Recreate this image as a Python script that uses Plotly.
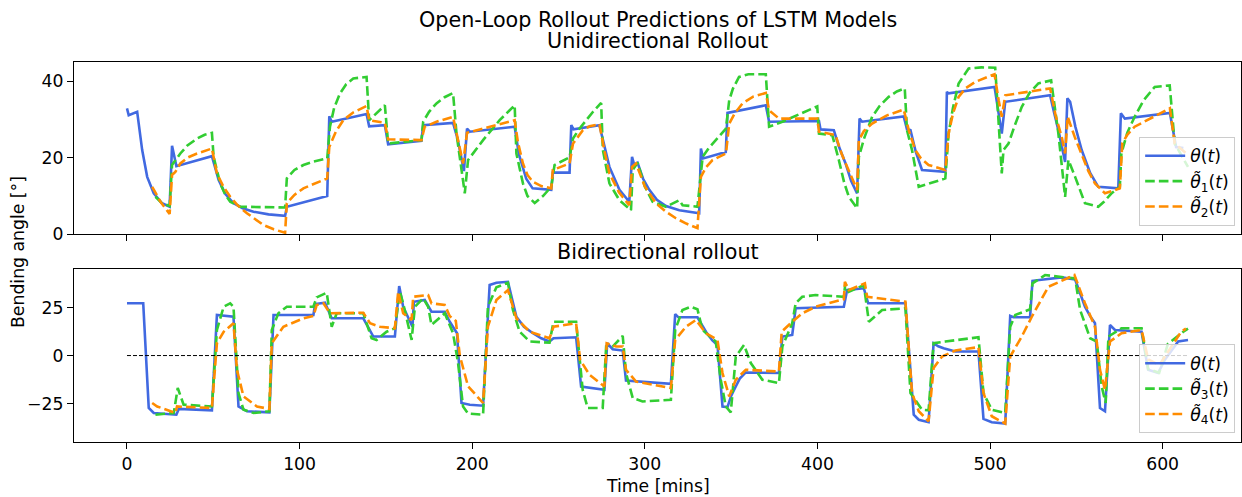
import plotly.graph_objects as go

# ---------------- data ----------------
# Unidirectional rollout: measured angle theta(t)
t_theta_uni = [0, 1, 5.9, 8.8, 11.7, 15.5, 20.3, 24.7, 26.1, 28.6, 49.2, 53.1, 57, 61.8, 67, 73.3, 82, 91.6,
               92.6, 116, 117.2, 118.6, 138.8, 140.3, 149.4, 151.3, 170.6, 171.6, 188.9, 191.5, 195.2, 197, 198.6,
               224.6, 227, 231.3, 235, 245.8, 246.7, 256.4, 257.4, 258.7, 273.7, 276.5, 279.5, 285.3, 291,
               292.6, 293.9, 295.8, 299, 302.6, 307, 312.3, 320, 331.5, 332.5, 333.8, 346.9, 347.9, 370.1,
               372, 400.9, 401.8, 409.5, 412.4, 416.3, 419.5, 423, 424.4, 425.9, 450, 451.9, 453.9, 457,
               460.6, 474.1, 475, 476, 502.6, 505, 506.8, 508.8, 534.8, 537, 539.6, 543.5, 544.8, 546.4,
               549.5, 553.1, 558, 562.7, 574.3, 575.8, 578.1, 604.2, 607.8, 612]
theta_uni = [32.9, 31.1, 32, 22, 15, 10.7, 8.1, 7.2, 23.1, 17.8, 20.4, 14.2, 10.5, 8.1, 6.8, 5.9, 5.2, 4.8,
             7.2, 10, 30.8, 29.4, 31.4, 28.2, 28.5, 23.5, 24.4, 28.5, 29.1, 25, 16.5, 27.6, 26.8,
             28.1, 21, 14.5, 12, 11.6, 16.1, 16.1, 28.5, 27.4, 28.5, 23, 17.6, 11.6, 8.5,
             20.2, 18.1, 18.7, 14.5, 11.6, 9, 7.4, 6.3, 5.5, 22.4, 19.8, 21.5, 31.7, 33.7,
             29.4, 29.6, 27.4, 27.2, 23, 18.5, 14, 10.7, 30.2, 29.4, 30.8, 27.4, 27.2, 21.5,
             16.8, 16.3, 37.2, 36.8, 38.5, 31, 26.3, 34.6, 36.3, 32, 27.2, 18.9, 35.5, 34.6,
             28, 22, 16, 12.4, 12, 31.6, 30.2, 31.7, 22.8, 22.5]

# Unidirectional rollout: model 1 prediction
t_pred1 = [16.5, 20, 24.7, 26.1, 30.9, 35, 40.6, 45, 49.2, 50.2, 54, 57, 59.8, 65.6, 91.6, 92.6, 97, 102.2,
           108, 116, 117.6, 120, 123.4, 127, 131.1, 138.8, 140.3, 149.4, 151.3, 170.6, 171.6, 175, 179.3,
           184, 188.9, 190.9, 195.7, 197.6, 206.3, 215.9, 224.6, 225.6, 229.4, 232, 236.2, 241, 245.8,
           247.7, 256.4, 258.4, 262, 266.1, 270, 274.7, 275.7, 279.5, 285.3, 292, 293, 295.8, 300, 304.5,
           312.3, 320, 321.9, 330.5, 333.5, 337, 341.2, 347, 348.9, 351, 354.6, 360, 370.1, 372, 379.7,
           390, 399.9, 400.9, 408.6, 412.4, 415.5, 418.2, 423, 424, 427, 431.7, 436, 441.3, 446, 450.6,
           451.9, 454.8, 458.7, 474.1, 476, 478.5, 481.8, 487.6, 495, 503, 505, 506.8, 507.8, 510.7,
           514, 518.4, 523, 528, 535.4, 539.6, 543.5, 545.4, 549.3, 555, 562.7, 566, 570.4, 575.2,
           576.1, 579.5, 583.8, 589, 595.4, 604.1, 607, 614.7]
pred1 = [9.8, 8.2, 7.4, 18.1, 21.1, 23.2, 25, 26, 26.5, 20.2, 13.3, 10.3, 8.5, 7.2, 7, 14.6, 16.8, 18.1,
         19, 19.8, 28.1, 33, 36.8, 39.2, 40.7, 41.1, 29.8, 33.7, 23.7, 24.6, 29.4, 32, 34.2,
         35.8, 36.9, 26.3, 10.7, 19.4, 24.6, 29.8, 33.7, 21.1, 13.3, 10, 8.2, 10, 12.4,
         18.1, 20.1, 25, 27.5, 29.8, 32, 34.3, 22, 13.3, 8.9, 6.3, 16.8, 18.7, 12.5, 8.5,
         7.2, 8.9, 7.6, 7.2, 20.2, 22.5, 24.6, 27.6, 35, 38, 41.1, 41.8, 41.8, 28.1, 29.4,
         31.4, 33.4, 26.3, 25.9, 19.4, 13.5, 9.8, 6.8, 20.2, 25, 30.7, 33.5, 35.9, 37.3, 38.1,
         27.2, 22, 12.4, 14.6, 26.3, 33, 39.4, 43.3, 43.6, 43.5, 30, 15.9, 22, 23.7,
         28, 33.3, 37, 39.4, 40.2, 26.3, 9.8, 19.4, 15, 8.1, 7.2, 8.5, 10.7, 12.4,
         21.1, 26.5, 30.7, 35, 38.5, 38.9, 23.7, 17.6]

# Unidirectional rollout: model 2 prediction
t_pred2 = [14.6, 19.4, 24.7, 26.1, 28, 30.9, 35, 40.6, 49.2, 52.1, 56, 59.8, 64, 69.5, 79.1, 85, 91.6,
           92.6, 97, 102.2, 116, 117.2, 121, 125.3, 131, 138.8, 140.3, 149.4, 151.3, 170.6, 172.5, 180,
           188.9, 191.5, 194.7, 197, 206.3, 215, 224.6, 226.5, 229.4, 232, 235.2, 240, 245.8, 246.7,
           256.4, 258.4, 264.1, 268, 273.7, 276.5, 279.5, 285, 291, 292.6, 294.9, 300, 306.5, 312, 318,
           324, 330.5, 332.5, 335.5, 339.2, 347, 348.9, 352, 356.6, 363, 370.1, 372, 377.8, 399.9,
           400.9, 410.5, 414, 418.2, 423, 424, 427, 431.7, 440, 450, 452.9, 456.7, 460, 464.4, 474.1,
           476, 478.5, 481.8, 486, 491.4, 502.6, 505, 506.8, 508.8, 534.8, 538, 541.5, 543.5, 545,
           549, 553.1, 557, 560.8, 566.6, 575.2, 576.6, 579.5, 583.8, 594, 604.2, 607, 614]
pred2 = [12.4, 8.5, 5.3, 15.5, 16.3, 18.5, 20, 21.1, 22.4, 15.9, 12.3, 9.8, 7.6, 5.5, 2.4, 1.3, 0.4,
         8.1, 10.3, 12, 14.6, 22.8, 26.8, 29.8, 31.8, 33.5, 29.8, 29.1, 24.8, 24.6, 28.1, 29.5,
         30.7, 25.5, 18.5, 26.5, 27.6, 28.8, 29.8, 24, 18.5, 15.5, 13.7, 12.6, 12, 16.8,
         18.5, 23.7, 27.2, 28.2, 28.8, 22, 15.9, 11, 7.6, 17.6, 18.5, 12.5, 8.1, 6, 4.2,
         2.8, 1.6, 15, 17.5, 19.4, 21.1, 28.9, 31.5, 34.2, 36, 36.9, 32.4, 30.2, 30.2,
         26.8, 25.9, 21, 16.8, 11.6, 24.6, 27, 28.9, 31, 32.6, 27.2, 22, 19.8, 18.1, 16.8,
         26.3, 31.5, 35.9, 38.2, 39.8, 41.8, 35, 30.7, 36.3, 38.1, 31, 25.5, 21.1, 30.7,
         25.5, 21.1, 16.5, 13.3, 10.7, 12, 23.7, 26, 28.1, 30.5, 32.9, 23.7, 21]

# Bidirectional rollout: measured angle theta(t)
t_theta_bi = [0, 9.4, 12.6, 15.5, 28.6, 30, 49.2, 52.1, 61.7, 64.6, 69.5, 82.5, 84.9, 108, 109, 114.7,
              118.6, 136.9, 142.7, 155.2, 157.7, 160, 165.4, 166.2, 172.5, 176.4, 184.1, 187, 191.2,
              193.8, 198.6, 206.3, 210.1, 214, 220.7, 223, 225.6, 230, 235.2, 240, 244.8, 247.1, 260.2,
              263.1, 276.6, 278.2, 281.4, 287.2, 289.1, 315.1, 317.6, 319.5, 330.5, 335.4, 339, 342.1,
              345, 347.9, 350, 352.7, 355, 358.5, 377.7, 379.7, 385.4, 387.4, 415.3, 417.2, 426.9,
              429.4, 451, 455.8, 458.7, 464.4, 467.3, 470, 473.1, 479.9, 493.3, 496.2, 501, 508.8,
              511.7, 513.6, 523.2, 524.6, 541.5, 549.3, 552, 555, 558, 560.8, 563.7, 566.6, 569.5,
              572.4, 587.8, 591.6, 597.4, 601.3, 609, 614.7]
theta_bi = [27.2, 27.2, -27.3, -29.9, -30.8, -27.8, -28.5, 21.1, 20.2, -26.5, -29, -29.6, 21.1, 21.1, 26.8, 27.5,
            19.4, 19.4, 9.9, 9.9, 36.2, 25.4, 15, 28, 28.9, 22.8, 22.8, 17.6, 11.6,
            -24.7, -25.6, -26.1, 36.7, 37.9, 38.4, 29, 20.2, 15, 11.6, 9, 7.3, 9, 9.5,
            -16.1, -17.8, 6.4, 3.3, 2.6, -13, -14.7, 21.6, 19.9, 19.9, 12.4, 8, 5.5,
            -26.5, -26.8, -21, -16.1, -12, -8.8, -9.1, 9.9, 10.7, 24.6, 25.4, 34.1, 35,
            27.2, 27.2, -30.8, -33.4, -34.7, 6.4, 4.8, 3.8, 2.1, 2.1, -33, -34.7, -35.4,
            20.6, 19.9, 19.9, 38.9, 40.7, 39.6, 33, 25.4, 20.5, 16.8, -27.3, -29, 15.9,
            13.3, 12.4, -7.4, -9.1, -2.2, 7.3, 8.1]

# Bidirectional rollout: model 3 prediction
t_pred3 = [16.5, 27.1, 29.4, 32.8, 49.2, 52.1, 56, 59.8, 61.7, 64.6, 67.5, 73.3, 82.5, 83.9, 87.7, 92.6,
           108, 109.9, 115.7, 118.6, 121.5, 136.9, 141.7, 144.6, 150.4, 155.2, 158.1, 160, 164.9, 166.8,
           171.6, 174.5, 176.4, 184.1, 188.9, 191.8, 194.7, 197.6, 206.3, 209.1, 214, 220.7, 223.6,
           227.5, 233.3, 244.8, 247.1, 260.2, 264, 266.9, 275.6, 277.6, 281.4, 287.2, 289.1, 293,
           298.7, 315.1, 317.6, 321.8, 326.7, 330.5, 333.4, 341.1, 344, 346.9, 349.8, 352.7, 357.5,
           361.4, 368.1, 377.7, 379.7, 385.4, 387.4, 391.2, 398.9, 415.3, 416.2, 418.2, 426.9, 429.8,
           437.5, 451, 453.9, 460.6, 464.4, 467.3, 474.1, 493.3, 496.2, 501, 508.8, 511.7, 514.6,
           523.2, 524.6, 531.9, 549.3, 552.2, 558, 561.8, 564.7, 567, 568.6, 576.2, 587.8, 591.6,
           598, 603, 612, 614.7]
pred3 = [-30.8, -29.9, -16.9, -25.6, -26.5, 13.3, 25.4, 27.2, 25.4, -19.5, -28.2, -29.9, -29, 13.3, 22, 25.4,
         25.4, 30.3, 32.7, 15, 22, 22, 9, 8.1, 12.4, 14.2, 33.2, 27.2, 8.1, 25.4,
         29.8, 25.4, 15.9, 22, 11.6, -3.9, -26.5, -30.2, -30.8, 25.4, 35.5, 37.9, 23.7,
         12.4, 7.3, 6.7, 17.6, 17.6, -17.8, -27.3, -27.3, 4.7, 4.7, 10.2, -9.1, -22.1,
         -23.9, -23, 13.3, 23.7, 25.4, 24.1, 13.3, 7.3, -12.6, -26.5, -29.6, -0.5, 5.5,
         -3.9, -12.6, -14.3, 4.7, 16.8, 27.2, 30.6, 31.5, 30.6, 37.6, 33.2, 36.7, 17.6,
         23.7, 24.6, -19.5, -28.2, -28.5, 6.4, 7.3, 9.5, -19.5, -28.2, -29.9, 15, 21.1,
         24.1, 37.6, 41.9, 40.1, 23.7, 9, 7.3, -16.1, -24.7, 9.9, 14.2, 14.2, -7,
         -9, 6, 12.4, 14]

# Bidirectional rollout: model 4 prediction
t_pred4 = [14.6, 17.5, 28, 29, 49.2, 52.1, 56, 61.7, 63.7, 67.5, 75.3, 82.5, 83.9, 90.6, 102.2, 108,
           109.9, 113.8, 117.6, 136.9, 140.8, 146.5, 155.2, 157.1, 160, 164.9, 165.8, 174.5, 176.4,
           184.1, 187, 190.5, 192.8, 197.6, 206.3, 209.1, 214, 220.7, 225.6, 233.3, 244.8, 247.1,
           260.2, 262.5, 267.9, 276.6, 277.9, 283.4, 287.2, 289.1, 294.9, 315.1, 317.6, 323.8, 329.6,
           335.4, 342.1, 345, 348.9, 352.7, 358.5, 377.7, 379.3, 385.4, 391.2, 398.9, 415.3, 415.9,
           418.2, 427.5, 428.8, 451, 454.8, 458.7, 464.4, 467.3, 472.2, 479.9, 493.3, 496.2, 501,
           508.8, 511.7, 518.4, 524.2, 533.8, 548.9, 555, 560.8, 563.7, 566.6, 569.5, 576.2, 587.8,
           591.6, 598, 609, 610.7, 613.5]
pred4 = [-24.7, -26.5, -29.9, -26.5, -27.3, 6.4, 12.4, 16.8, -7.4, -21.3, -26.5, -27.8, 6.4, 15, 19.4, 20.6,
         26.3, 27.2, 22, 22.3, 16.8, 15, 14.2, 33.2, 22, 18.5, 30.6, 31.5, 27.2,
         26.3, 20.5, 18, 0, -16, -24.7, 15, 28.9, 34.1, 19.4, 12.4, 9, 15,
         16.8, -2.2, -10, -16.1, 6.4, 4.7, 4.7, -7.4, -13.5, -16.9, 8.1, 15, 18.5,
         11.6, 8.1, -9.1, -21.3, -12.6, -7.4, -8.3, 12.4, 17.6, 22, 25.4, 29.3, 38.4,
         34.1, 37.6, 30.6, 28, -19.5, -29, -34.2, -6.5, -0.5, 2.6, 4.4, -19.5, -31.6,
         -35.4, -0.5, 9.9, 20.2, 35.8, 41.9, 27.2, 15, -7.4, -17.8, 7.3, 11.6, 13.3,
         -2, -5, 10, 12.4, 14]

# reference line and axis ticks
t_zero_line = [0, 614.7]
zero_line = [0, 0]
x_ticks = [0, 100, 200, 300, 400, 500, 600]
y_ticks_top = [0, 20, 40]
y_ticks_bottom = [-25, 0, 25]

# ---------------- styling ----------------
BLUE = "#4169E1"
GREEN = "#32CD32"
ORANGE = "#FF8C00"
FONT = "DejaVu Sans"
DASH = "9.6px,4.1px"
LW = 2.6
TICK_FS = 17.25
TITLE_FS = 20.7

fig = go.Figure()

def add(x, y, color, name, xa, ya, legend, dash=None):
    line = dict(color=color, width=LW)
    if dash:
        line["dash"] = dash
    fig.add_trace(go.Scatter(x=x, y=y, mode="lines", name=name, xaxis=xa, yaxis=ya,
                             legend=legend, line=line))

TH = "<i>θ</i>(<i>t</i>)"
def tl(k):
    return "<i>θ\u0303</i><sub>%d</sub>(<i>t</i>)" % k

add(t_theta_uni, theta_uni, BLUE, TH, "x", "y", "legend")
add(t_pred1, pred1, GREEN, tl(1), "x", "y", "legend", DASH)
add(t_pred2, pred2, ORANGE, tl(2), "x", "y", "legend", DASH)

add(t_theta_bi, theta_bi, BLUE, TH, "x2", "y2", "legend2")
add(t_pred3, pred3, GREEN, tl(3), "x2", "y2", "legend2", DASH)
add(t_pred4, pred4, ORANGE, tl(4), "x2", "y2", "legend2", DASH)

fig.add_trace(go.Scatter(x=t_zero_line, y=zero_line, mode="lines", showlegend=False,
                         xaxis="x2", yaxis="y2", line=dict(color="black", width=1, dash="4px,2px")))

axis_common = dict(showline=True, mirror=True, linecolor="black", linewidth=1.35,
                   ticks="outside", ticklen=6, tickwidth=1.35, tickcolor="black",
                   showgrid=False, zeroline=False,
                   tickfont=dict(family=FONT, size=TICK_FS, color="black"))

legend_common = dict(xanchor="right", yanchor="bottom",
                     bgcolor="rgba(255,255,255,0.8)", bordercolor="#cccccc", borderwidth=1,
                     font=dict(family=FONT, size=TICK_FS, color="black"), itemwidth=40,
                     tracegroupgap=0)

X_RANGE = [-30.7, 645.4]
fig.update_layout(
    width=1242, height=497,
    margin=dict(l=74, r=1, t=62, b=55),
    paper_bgcolor="white", plot_bgcolor="white",
    font=dict(family=FONT, size=TICK_FS, color="black"),
    xaxis=dict(domain=[0, 1], anchor="y", range=X_RANGE, tickvals=x_ticks,
               showticklabels=False, **axis_common),
    yaxis=dict(domain=[0.5466, 1], anchor="x", range=[0, 45], tickvals=y_ticks_top, **axis_common),
    xaxis2=dict(domain=[0, 1], anchor="y2", range=X_RANGE, tickvals=x_ticks, matches="x",
                **axis_common),
    yaxis2=dict(domain=[0, 0.455], anchor="x2", range=[-45, 45], tickvals=y_ticks_bottom,
                **axis_common),
    legend=dict(x=0.995, y=0.5684, **legend_common),
    legend2=dict(x=0.995, y=0.0224, **legend_common),
    showlegend=True,
)

annotations = [
    dict(text="Open-Loop Rollout Predictions of LSTM Models", x=0.5, y=1.111, size=TITLE_FS),
    dict(text="Unidirectional Rollout", x=0.5, y=1.054, size=TITLE_FS),
    dict(text="Bidirectional rollout", x=0.5, y=0.5, size=TITLE_FS),
    dict(text="Time [mins]", x=0.5, y=-0.116, size=TICK_FS),
]
for a in annotations:
    fig.add_annotation(text=a["text"], x=a["x"], y=a["y"], xref="paper", yref="paper",
                       xanchor="center", yanchor="middle", showarrow=False,
                       font=dict(family=FONT, size=a["size"], color="black"))
fig.add_annotation(text="Bending angle [°]", x=-0.048, y=0.5, xref="paper", yref="paper",
                   xanchor="center", yanchor="middle", showarrow=False, textangle=-90,
                   font=dict(family=FONT, size=TICK_FS, color="black"))

fig.write_html("out.html")
